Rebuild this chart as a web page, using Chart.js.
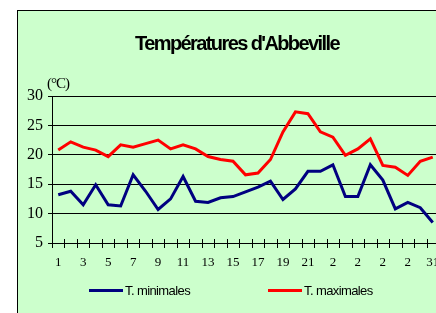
<!DOCTYPE html>
<html>
<head>
<meta charset="utf-8">
<script src="https://cdn.jsdelivr.net/npm/chart.js@4/dist/chart.umd.min.js"></script>
<style>
  html, body { margin: 0; padding: 0; background: #fff; overflow: hidden; }
  canvas { display: block; }
</style>
</head>
<body>
<canvas id="chart" width="445" height="320"></canvas>
<script>
// Températures d'Abbeville - daily min / max
const days = ["1","2","3","4","5","6","7","8","9","10","11","12","13","14","15","16",
  "17","18","19","20","21","22","23","24","25","26","27","28","29","30","31"];
// the labels as they appear under the axis (every other day, truncated after 21)
const tickLabels = ["1","","3","","5","","7","","9","","11","","13","","15","",
  "17","","19","","21","","2","","2","","2","","2","","31"];
const tMin = [13.2, 13.8, 11.5, 14.9, 11.5, 11.3, 16.6, 13.8, 10.7, 12.5, 16.3, 12.1, 11.9, 12.7, 12.9, 13.7,
  14.5, 15.5, 12.4, 14.2, 17.2, 17.2, 18.3, 12.9, 12.9, 18.3, 15.7, 10.8, 11.9, 11.0, 8.5];
const tMax = [20.8, 22.2, 21.3, 20.8, 19.7, 21.7, 21.3, 21.9, 22.5, 21.0, 21.7, 21.0, 19.7, 19.2, 18.9, 16.6,
  16.9, 19.2, 23.9, 27.3, 27.0, 23.9, 23.0, 19.9, 21.0, 22.7, 18.2, 17.9, 16.5, 18.9, 19.6];

const frame = {
  id: "frame",
  beforeDraw(chart) {
    const ctx = chart.ctx;
    ctx.save();
    ctx.fillStyle = "#fff";
    ctx.fillRect(0, 0, chart.width, chart.height);
    ctx.fillStyle = "#ccffcc";
    ctx.fillRect(17, 10, chart.width, chart.height);
    ctx.strokeStyle = "#000";
    ctx.lineWidth = 1;
    ctx.strokeRect(17.5, 10.5, chart.width + 10, chart.height + 10);
    ctx.restore();
  },
  afterDraw(chart) {
    const ctx = chart.ctx;
    const xs = chart.scales.x;
    const area = chart.chartArea;
    ctx.save();
    // cross tick marks between the days
    ctx.strokeStyle = "#000";
    ctx.lineWidth = 1;
    ctx.beginPath();
    const step = xs.width / days.length;
    for (let i = 0; i <= days.length; i++) {
      const x = Math.round(xs.left + i * step) + 0.5;
      ctx.moveTo(x, area.bottom - 4);
      ctx.lineTo(x, area.bottom + 5);
    }
    ctx.stroke();

    // title
    ctx.fillStyle = "#000";
    ctx.textAlign = "center";
    ctx.textBaseline = "alphabetic";
    ctx.font = "bold 20px 'Liberation Sans', Arial, sans-serif";
    ctx.letterSpacing = "-1.6px";
    ctx.fillText("Températures d'Abbeville", 237, 50);

    // unit
    ctx.textAlign = "left";
    ctx.font = "15px 'Liberation Serif', 'Times New Roman', serif";
    ctx.letterSpacing = "-1px";
    ctx.fillText("(°C)", 47, 88);

    // legend
    ctx.font = "13px 'Liberation Sans', Arial, sans-serif";
    ctx.letterSpacing = "-0.6px";
    const items = [[89, 125], [268, 304]];
    chart.data.datasets.forEach((ds, i) => {
      const [lx, tx] = items[i];
      ctx.strokeStyle = ds.borderColor;
      ctx.lineWidth = 3;
      ctx.beginPath();
      ctx.moveTo(lx, 290.5);
      ctx.lineTo(lx + 34, 290.5);
      ctx.stroke();
      ctx.fillStyle = "#000";
      ctx.fillText(ds.label, tx, 295);
    });
    ctx.restore();
  }
};

new Chart(document.getElementById("chart"), {
  type: "line",
  data: {
    labels: days,
    datasets: [
      { label: "T. minimales", data: tMin, borderColor: "#000080", backgroundColor: "#000080",
        borderWidth: 3, pointRadius: 0, tension: 0 },
      { label: "T. maximales", data: tMax, borderColor: "#ff0000", backgroundColor: "#ff0000",
        borderWidth: 3, pointRadius: 0, tension: 0 }
    ]
  },
  options: {
    responsive: false,
    animation: false,
    events: [],
    layout: { padding: { top: 96, right: 6, bottom: 0, left: 0 } },
    plugins: { legend: { display: false }, title: { display: false }, tooltip: { enabled: false } },
    scales: {
      x: {
        offset: true,
        afterFit: (s) => { s.height = 77; },
        grid: { display: true, drawOnChartArea: false, drawTicks: true, tickLength: 12,
          tickColor: "rgba(0,0,0,0)", offset: true, color: "#000" },
        border: { color: "#000", width: 1 },
        ticks: {
          autoSkip: false, maxRotation: 0, padding: 0, color: "#000",
          font: { family: "'Liberation Serif', 'Times New Roman', serif", size: 13 },
          callback: (v, i) => tickLabels[i]
        }
      },
      y: {
        min: 5, max: 30,
        afterFit: (s) => { s.width = 52; },
        grid: { color: "#000", lineWidth: 1, tickLength: 4, tickColor: "#000" },
        border: { color: "#000", width: 1 },
        ticks: {
          stepSize: 5, padding: 5, color: "#000",
          font: { family: "'Liberation Serif', 'Times New Roman', serif", size: 16 }
        }
      }
    }
  },
  plugins: [frame]
});
</script>
</body>
</html>
